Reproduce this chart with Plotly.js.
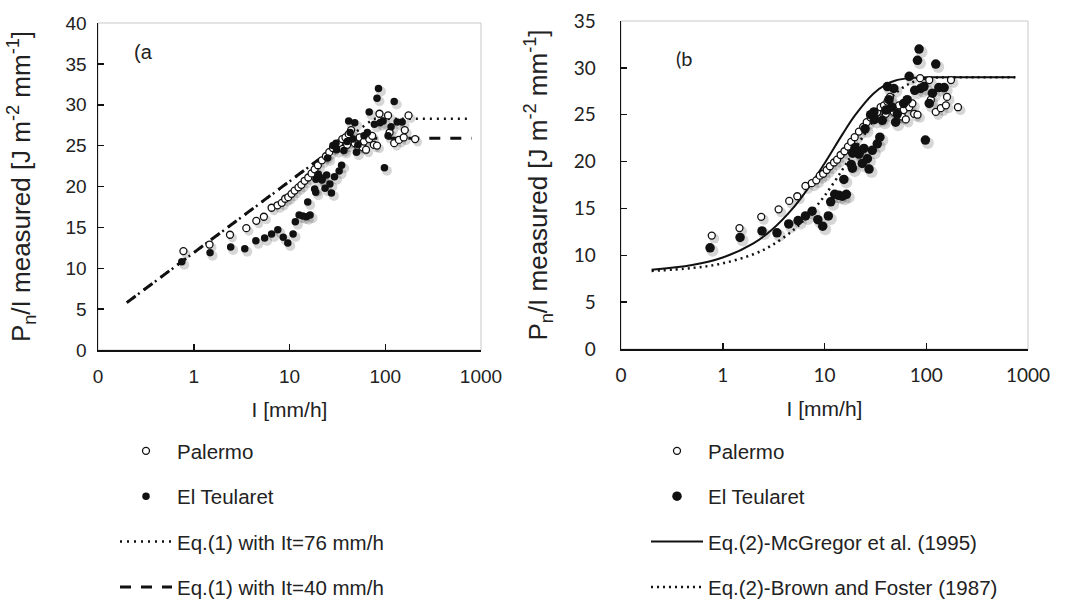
<!DOCTYPE html>
<html>
<head>
<meta charset="utf-8">
<script src="https://cdn.plot.ly/plotly-3.0.1.min.js"></script>
<style>html,body{margin:0;padding:0;background:#fff;}#chart{width:1069px;height:600px;}</style>
</head>
<body>
<div id="chart"></div>
<script>
var palermoI = [0.78,1.46,2.39,3.54,4.5,5.4,6.5,7.5,8.3,9.0,9.7,10.5,11.3,12.4,13.3,14.4,15.7,17,18.3,19.8,21.8,24,26,28.4,30.6,33,35.6,36,38.4,40,41.5,44,45,48,52,54,58,60,63,68,73,76,82,87,107,111,124,139,156,160,175,205];
var palermoE = [12.1,12.9,14.1,14.9,15.8,16.3,17.4,17.7,18.0,18.5,18.7,19.1,19.5,19.9,20.2,20.7,21.1,21.6,22.1,22.6,23.2,23.7,24.2,24.7,25.0,25.3,25.8,24.6,26.0,25.1,26.4,26.9,25.6,25.3,24.9,26.0,24.8,25.5,24.5,25.8,26.2,25.1,25.0,28.9,28.7,26.6,25.3,25.7,26.0,26.9,28.7,25.8];

var teularetI = [0.75,1.48,2.43,3.41,4.45,5.5,6.5,7.55,8.6,9.6,10.9,11.5,12.6,13.8,15,16.4,15.5,18.3,18.8,18.9,20,21.8,22,23.5,24.4,25,27.4,26.4,29.5,33,35,28.4,30.6,31,37,40,43,41.5,48,46,50,52,60,65,68,77,82,85,88,95,98,107,115,124,133,150];
var teularetE = [10.8,11.9,12.6,12.4,13.35,13.7,14.2,14.7,13.8,13.1,14.2,15.7,16.5,16.4,16.3,16.5,18.1,19.7,19.3,20.9,21.5,20.8,21.0,19.8,21.4,23.5,19.2,20.3,21.2,21.9,22.6,25.0,25.3,24.5,24.4,25.5,26.6,28.0,27.8,25.8,24.2,25.1,26.2,26.6,29.1,27.6,30.8,32.0,27.8,28.0,22.3,26.2,27.3,30.4,27.9,27.9];

// ---- panel (a) model lines ----
var eq76I = [0.2, 76, 800];
var eq76E = [5.8, 28.3, 28.3];
var eq40I = [0.2, 40, 800];
var eq40E = [5.8, 25.9, 25.9];

// ---- panel (b) model curves ----
var curveI = [0.2,0.5,1,2,3,5,7,10,15,20,30,40,50,70,100,150,200,300,750];
var mcgregorE = [8.46,8.96,9.76,11.28,12.67,15.14,17.24,19.80,22.90,24.95,27.22,28.21,28.65,28.93,28.99,29.0,29.0,29.0,29.0];
var brownE = [8.33,8.64,9.14,10.11,11.03,12.74,14.29,16.34,19.14,21.32,24.34,26.17,27.29,28.37,28.86,28.99,29.0,29.0,29.0];

var tickVals = [0.1,1,10,100,1000];
var tickText = ['0','1','10','100','1000'];

var FONT = 'Liberation Sans, Arial, sans-serif';
var FONTB = 'Lato, Liberation Sans, sans-serif';
var W = 1069, H = 600;
var SHADOW = 'rgba(0,0,0,0.16)';

var traces = [
  // shadows (drawn on the hidden, slightly offset subplots)
  {x: palermoI, y: palermoE, xaxis:'x', yaxis:'y', mode:'markers', showlegend:false, hoverinfo:'skip',
   marker:{size:9, color:SHADOW}},
  {x: teularetI, y: teularetE, xaxis:'x', yaxis:'y', mode:'markers', showlegend:false, hoverinfo:'skip',
   marker:{size:10, color:SHADOW}},
  {x: palermoI, y: palermoE, xaxis:'x2', yaxis:'y2', mode:'markers', showlegend:false, hoverinfo:'skip',
   marker:{size:10, color:SHADOW}},
  {x: teularetI, y: teularetE, xaxis:'x2', yaxis:'y2', mode:'markers', showlegend:false, hoverinfo:'skip',
   marker:{size:12, color:SHADOW}},
  // panel a
  {x: eq76I, y: eq76E, xaxis:'x3', yaxis:'y3', mode:'lines', name:'Eq.(1) with It=76 mm/h',
   line:{color:'#111', width:2.5, dash:'2px,5px'}, legend:'legend', legendgroup:'a3', legendrank:3},
  {x: eq40I, y: eq40E, xaxis:'x3', yaxis:'y3', mode:'lines', name:'Eq.(1) with It=40 mm/h',
   line:{color:'#111', width:3, dash:'11px,10px'}, legend:'legend', legendgroup:'a4', legendrank:4},
  {x: palermoI, y: palermoE, xaxis:'x3', yaxis:'y3', mode:'markers', name:'Palermo',
   marker:{symbol:'circle', size:7, color:'#fff', line:{color:'#111', width:1.3}}, legend:'legend', legendgroup:'a1', legendrank:1},
  {x: teularetI, y: teularetE, xaxis:'x3', yaxis:'y3', mode:'markers', name:'El Teularet',
   marker:{symbol:'circle', size:7.5, color:'#111'}, legend:'legend', legendgroup:'a2', legendrank:2},
  // panel b
  {x: curveI, y: mcgregorE, xaxis:'x4', yaxis:'y4', mode:'lines', line:{shape:'spline', color:'#111', width:2},
   name:'Eq.(2)-McGregor et al. (1995)', legend:'legend2', legendgroup:'b3', legendrank:3},
  {x: curveI, y: brownE, xaxis:'x4', yaxis:'y4', mode:'lines', line:{shape:'spline', color:'#111', width:2.5, dash:'2px,4px'},
   name:'Eq.(2)-Brown and Foster (1987)', legend:'legend2', legendgroup:'b4', legendrank:4},
  {x: palermoI, y: palermoE, xaxis:'x4', yaxis:'y4', mode:'markers', name:'Palermo',
   marker:{symbol:'circle', size:7, color:'#fff', line:{color:'#111', width:1.3}}, legend:'legend2', legendgroup:'b1', legendrank:1},
  {x: teularetI, y: teularetE, xaxis:'x4', yaxis:'y4', mode:'markers', name:'El Teularet',
   marker:{symbol:'circle', size:9.5, color:'#111'}, legend:'legend2', legendgroup:'b2', legendrank:2}
];

function xAxis(domain, tickFont, anchor) {
  return {
    type:'log', range:[-1, 3], domain: domain, anchor: anchor,
    tickmode:'array', tickvals: tickVals, ticktext: tickText,
    ticks:'inside', ticklen:6, tickwidth:1.5, tickcolor:'#111',
    showline:true, linecolor:'#111', linewidth:1.5,
    showgrid:false, zeroline:false, ticklabelstandoff:9,
    tickfont: tickFont,
    title:{text:'I [mm/h]', font:{family:FONT, size:21, color:'#222'}, standoff:16},
    fixedrange:true
  };
}
function yAxis(domain, range, tickFont, anchor, labelGap, titleGap) {
  return {
    range: range, domain: domain, anchor: anchor, dtick:5, tick0:0,
    ticks:'inside', ticklen:6, tickwidth:1.5, tickcolor:'#111',
    showline:true, linecolor:'#111', linewidth:1.5,
    showgrid:false, zeroline:false, ticklabelstandoff:labelGap,
    tickfont: tickFont,
    title:{text:'P<sub>n</sub>/I measured [J m<sup>-2</sup> mm<sup>-1</sup>]', font:{family:FONT, size:26, color:'#222'}, standoff:titleGap},
    fixedrange:true
  };
}
function hiddenAxis(domain, range, type, anchor) {
  var a = {domain: domain, range: range, anchor: anchor, visible:false, showgrid:false, zeroline:false, fixedrange:true};
  if (type) a.type = type;
  return a;
}

var tfA = {family:FONT, size:19, color:'#222'};
var tfB = {family:FONTB, size:19, color:'#222'};
var dx = 2.5 / W, dy = 3 / H;
var xdA = [98/W, 481/W], ydA = [1-350/H, 1-23/H];
var xdB = [621/W, 1028/W], ydB = [1-349/H, 1-21/H];

var layout = {
  width:W, height:H,
  margin:{l:0, r:0, t:0, b:0, autoexpand:false},
  paper_bgcolor:'#fff', plot_bgcolor:'rgba(0,0,0,0)',
  font:{family:FONT, color:'#222'},
  // hidden offset subplots for marker shadows
  xaxis: hiddenAxis([xdA[0]+dx, xdA[1]+dx], [-1, 3], 'log', 'y'),
  yaxis: hiddenAxis([ydA[0]-dy, ydA[1]-dy], [0, 40], null, 'x'),
  xaxis2: hiddenAxis([xdB[0]+dx, xdB[1]+dx], [-1, 3], 'log', 'y2'),
  yaxis2: hiddenAxis([ydB[0]-dy, ydB[1]-dy], [0, 35], null, 'x2'),
  // visible panels
  xaxis3: xAxis(xdA, tfA, 'y3'),
  yaxis3: yAxis(ydA, [0, 40], tfA, 'x3', 6, 27),
  xaxis4: xAxis(xdB, tfB, 'y4'),
  yaxis4: yAxis(ydB, [0, 35], tfB, 'x4', 20, 18),
  showlegend:true,
  legend:{x:115/W, xanchor:'left', y:1-431/H, yanchor:'top', font:{family:FONT, size:20.5, color:'#222'},
          itemwidth:52, traceorder:'grouped', tracegroupgap:15.7, bgcolor:'rgba(0,0,0,0)', borderwidth:0},
  legend2:{x:646/W, xanchor:'left', y:1-431/H, yanchor:'top', font:{family:FONT, size:20.5, color:'#222'},
          itemwidth:52, traceorder:'grouped', tracegroupgap:15.7, bgcolor:'rgba(0,0,0,0)', borderwidth:0},
  shapes:[
    {type:'rect', xref:'x3 domain', yref:'y3 domain', x0:0, x1:1, y0:0, y1:1, line:{color:'#c8c8c8', width:1}, layer:'below'},
    {type:'rect', xref:'x4 domain', yref:'y4 domain', x0:0, x1:1, y0:0, y1:1, line:{color:'#c8c8c8', width:1}, layer:'below'}
  ],
  annotations:[
    {text:'(a', xref:'x3 domain', yref:'y3 domain', x:0.09, y:0.91, xanchor:'left', yanchor:'middle', showarrow:false,
     font:{family:FONT, size:20, color:'#222'}},
    {text:'(b', xref:'x4 domain', yref:'y4 domain', x:0.13, y:0.888, xanchor:'left', yanchor:'middle', showarrow:false,
     font:{family:FONTB, size:20, color:'#222'}}
  ]
};

Plotly.newPlot('chart', traces, layout, {displayModeBar:false, staticPlot:true});
</script>
</body>
</html>
